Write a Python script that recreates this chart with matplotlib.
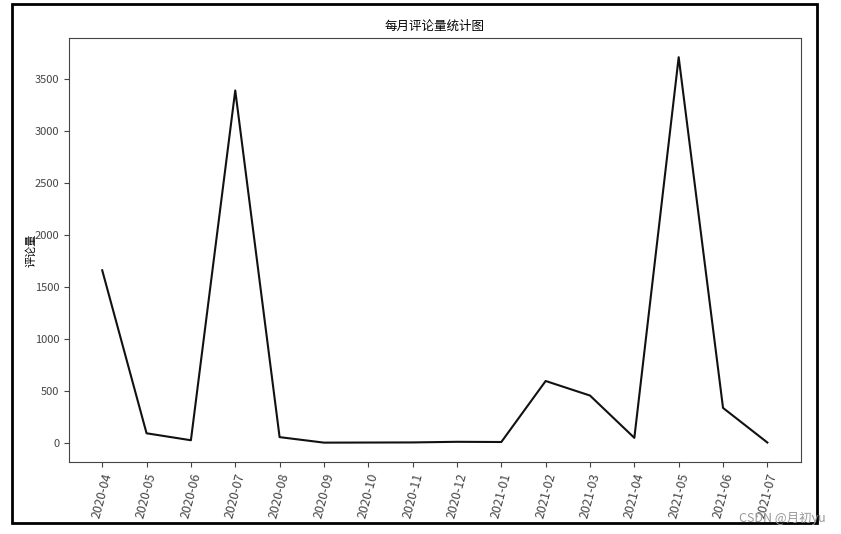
import matplotlib
matplotlib.use("Agg")
import matplotlib.pyplot as plt
from matplotlib.patches import Rectangle

plt.rcParams['font.family'] = ['Noto Sans CJK SC', 'DejaVu Sans']
plt.rcParams['axes.unicode_minus'] = False

months = ["2020-04", "2020-05", "2020-06", "2020-07", "2020-08", "2020-09",
          "2020-10", "2020-11", "2020-12", "2021-01", "2021-02", "2021-03",
          "2021-04", "2021-05", "2021-06", "2021-07"]
comments = [1660, 92, 25, 3390, 55, 2, 3, 4, 10, 8, 595, 455, 48, 3710, 336, 3]

fig = plt.figure(figsize=(8.41, 5.34), dpi=100)
ax = fig.add_axes([0.082, 0.135, 0.870, 0.794])
ax.plot(range(len(months)), comments, color='#111111', linewidth=1.5)
ax.set_xticks(range(len(months)))
ax.set_xticklabels(months, rotation=75, fontsize=9, color='#222222')
ax.tick_params(axis='y', labelsize=8, labelcolor='#222222')
ax.tick_params(colors='#444444', which='both')
ax.set_ylabel('评论量', fontsize=8, labelpad=-1)
ax.set_title('每月评论量统计图', fontsize=9)
for s in ax.spines.values():
    s.set_color('#444444')

fig.patches.append(Rectangle((12/841, 1-523/534), (817-12)/841, (523-4)/534,
                             transform=fig.transFigure, fill=False,
                             edgecolor='black', linewidth=2))
fig.text(0.982, 0.022, 'CSDN @月初yu', color='#999999', fontsize=9, ha='right')
fig.savefig('out.png', dpi=100)
